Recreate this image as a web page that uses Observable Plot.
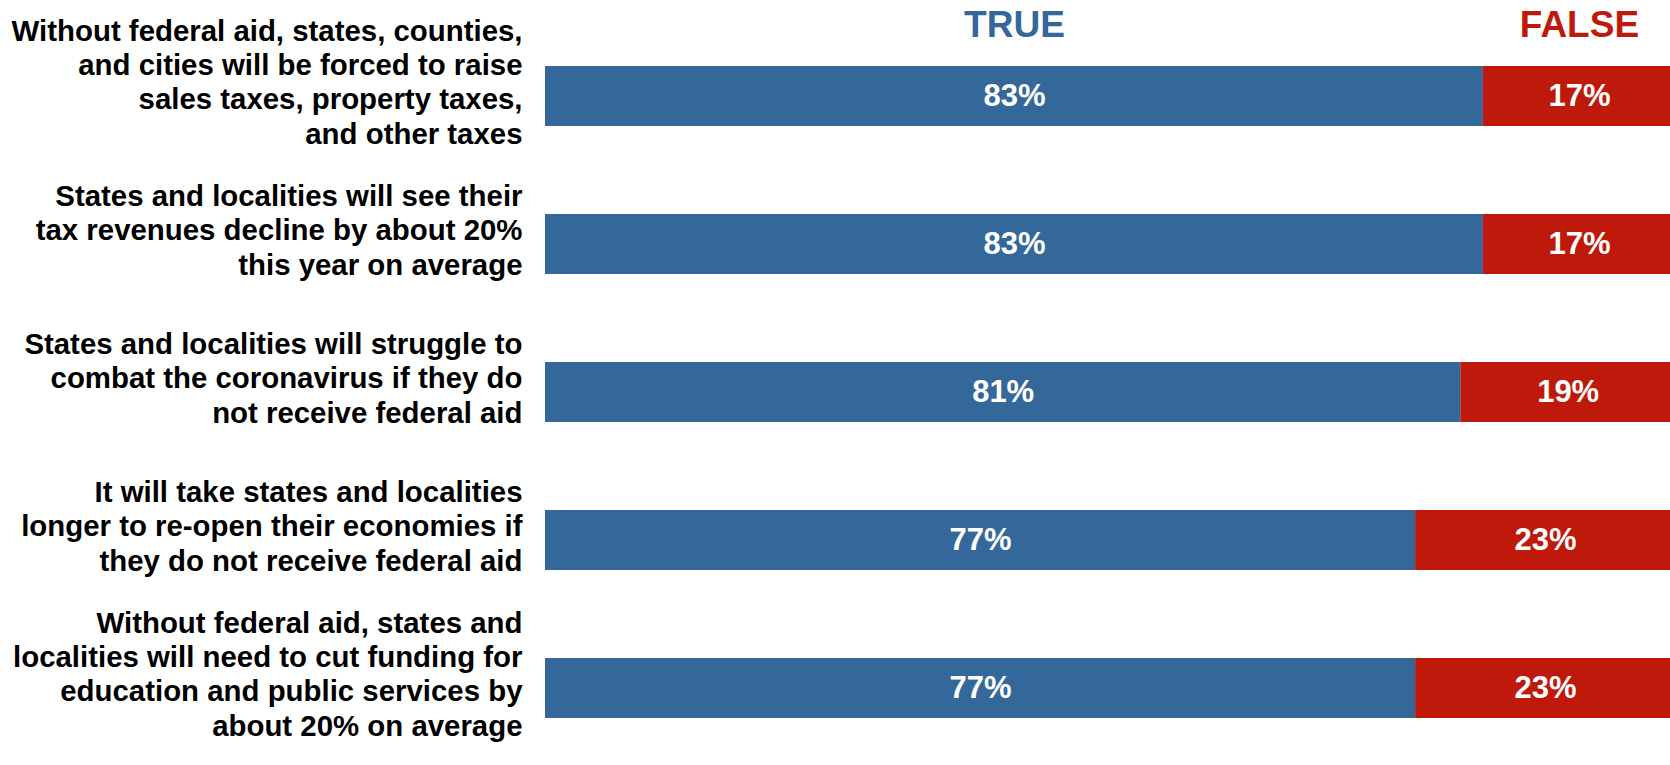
<!DOCTYPE html>
<html>
<head>
<meta charset="utf-8">
<script src="https://cdn.jsdelivr.net/npm/d3@7"></script>
<script src="https://cdn.jsdelivr.net/npm/@observablehq/plot@0.6"></script>
<style>
  html, body { margin: 0; padding: 0; background: #ffffff; }
  #chart svg { display: block; }
</style>
</head>
<body>
<div id="chart"></div>
<script>
const statements = [
  "Without federal aid, states, counties,\nand cities will be forced to raise\nsales taxes, property taxes,\nand other taxes",
  "States and localities will see their\ntax revenues decline by about 20%\nthis year on average",
  "States and localities will struggle to\ncombat the coronavirus if they do\nnot receive federal aid",
  "It will take states and localities\nlonger to re-open their economies if\nthey do not receive federal aid",
  "Without federal aid, states and\nlocalities will need to cut funding for\neducation and public services by\nabout 20% on average"
];
const trueValues = [83, 83, 81, 77, 77];
const falseValues = [17, 17, 19, 23, 23];
const answers = ["TRUE", "FALSE"];
const colors = ["#35689A", "#BE190B"];

const rows = [];
statements.forEach((s, i) => {
  rows.push({statement: s, answer: "TRUE", value: trueValues[i]});
  rows.push({statement: s, answer: "FALSE", value: falseValues[i]});
});

// Header positions derived from the first statement's segments
const headers = [
  {answer: "TRUE", x: trueValues[0] / 2},
  {answer: "FALSE", x: trueValues[0] + falseValues[0] / 2}
];

const chart = Plot.plot({
  width: 1670,
  height: 765,
  marginLeft: 545,
  marginRight: -5,
  marginTop: 64,
  marginBottom: 45,
  style: {fontFamily: "'Liberation Sans', Arial, sans-serif", background: "#ffffff", overflow: "hidden"},
  x: {domain: [0, 100], axis: null},
  y: {domain: statements, axis: null, paddingInner: 0.597, paddingOuter: 0},
  color: {domain: answers, range: colors},
  marks: [
    Plot.barX(rows, {x: "value", y: "statement", fill: "answer", z: "answer", order: answers}),
    Plot.text(rows, Plot.stackX({
      x: "value", y: "statement", z: "answer", order: answers,
      text: d => d.value + "%",
      fill: "#ffffff", fontSize: 31, fontWeight: "bold"
    })),
    Plot.text(statements, {
      y: d => d, frameAnchor: "left", textAnchor: "end", dx: -23, dy: -15,
      fontSize: 29.4, fontWeight: "bold", fill: "#000000", lineHeight: 1.16
    }),
    Plot.text(headers, {
      x: "x", frameAnchor: "top", dy: -54, text: "answer",
      fill: d => d.answer, fontSize: 37, fontWeight: "bold"
    })
  ]
});
document.getElementById("chart").appendChild(chart);
</script>
</body>
</html>
